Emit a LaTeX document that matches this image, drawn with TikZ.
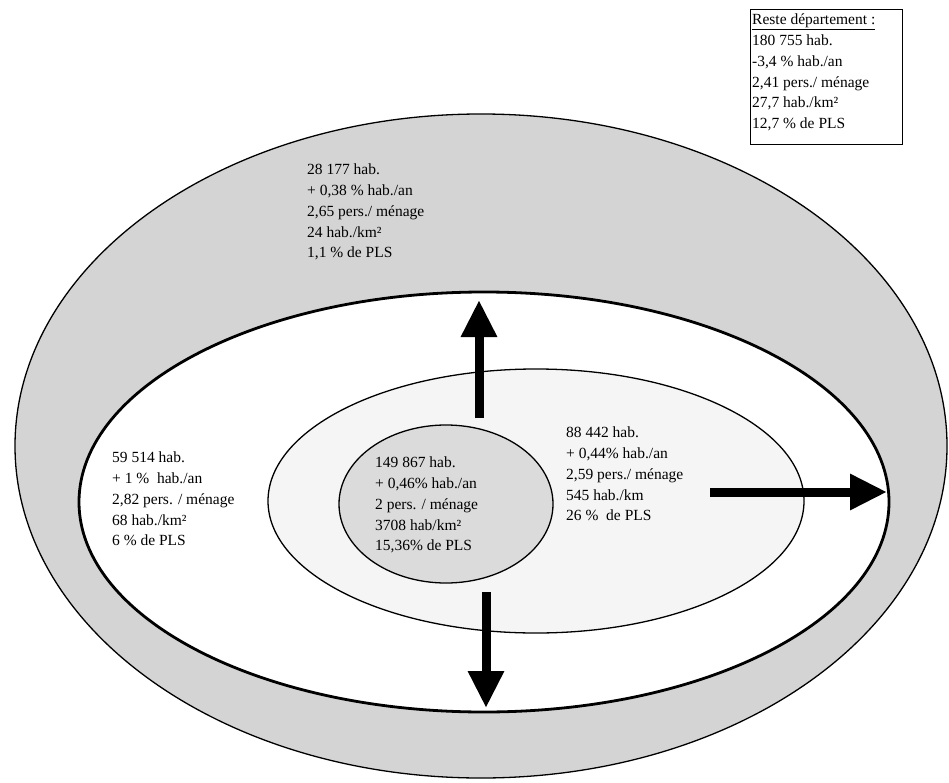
\documentclass[tikz,border=0pt]{standalone}
\usepackage{fontspec}
\setmainfont{Liberation Serif}
\usetikzlibrary{arrows.meta}
\begin{document}
\begin{tikzpicture}[x=1pt,y=-1pt,
  zone/.style={draw=black, line width=1.3pt},
  info/.style={anchor=north west, align=left, inner sep=0pt,
    font=\fontsize{15.5}{20.7}\selectfont},
  bigarrow/.style={line width=9pt, -{Triangle[length=37pt,width=34pt]}}]
\useasboundingbox (0,0) rectangle (949,783);
% rings
\draw[zone, fill=black!17] (481,446) ellipse [x radius=466, y radius=332];
\draw[zone, line width=2.8pt, fill=white] (484,502) ellipse [x radius=405, y radius=210];
\draw[zone, fill=black!4] (536,501) ellipse [x radius=268, y radius=132];
\draw[zone, fill=black!14] (446,504) ellipse [x radius=107, y radius=79];
% arrows
\coordinate (upA) at (479,418); \coordinate (upB) at (479,300);
\coordinate (dnA) at (486,592); \coordinate (dnB) at (486,708);
\coordinate (rtA) at (710,492); \coordinate (rtB) at (887,492);
\draw[bigarrow] (upA) -- (upB);
\draw[bigarrow] (dnA) -- (dnB);
\draw[bigarrow] (rtA) -- (rtB);
% texts
\node[info] (outer) at (307,164) {28 177 hab.\\+ 0,38 \% hab./an\\2,65 pers./ ménage\\24 hab./km²\\1,1 \% de PLS};
\node[info] (left) at (112,452) {59 514 hab.\\+ 1 \%\ \ hab./an\\2,82 pers. / ménage\\68 hab./km²\\6 \% de PLS};
\node[info] (centre) at (375,457) {149 867 hab.\\+ 0,46\% hab./an\\2 pers. / ménage\\3708 hab/km²\\15,36\% de PLS};
\node[info] (right) at (566,427) {88 442 hab.\\+ 0,44\% hab./an\\2,59 pers./ ménage\\545 hab./km\\26 \%\ \ de PLS};
\draw[line width=1pt, fill=white] (750,10) rectangle (902,145);
\node[info] (reste) at (752,14) {\underline{Reste département :}\\180 755 hab.\\-3,4 \% hab./an\\2,41 pers./ ménage\\27,7 hab./km²\\12,7 \% de PLS};
\end{tikzpicture}
\end{document}
